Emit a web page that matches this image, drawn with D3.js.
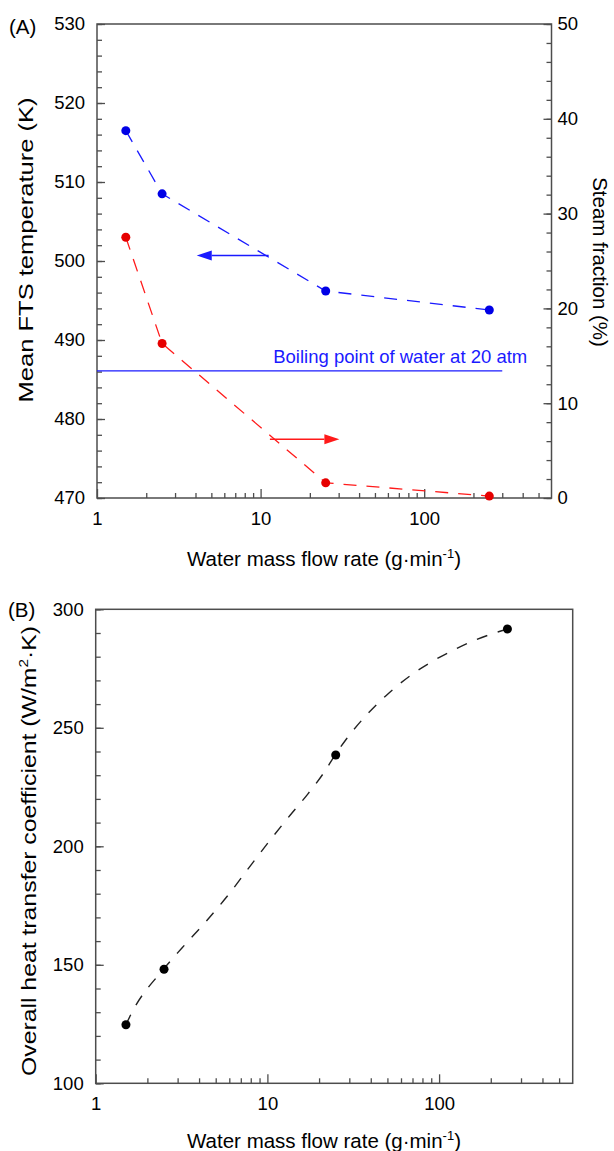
<!DOCTYPE html>
<html lang="en">
<head>
<meta charset="UTF-8">
<title>FTS temperature, steam fraction and heat transfer coefficient</title>
<script src="https://d3js.org/d3.v7.min.js"></script>
<style>
    body { margin: 0; background: #fff; }
    svg text { font-family: "Liberation Sans", Arial, sans-serif; fill: #000; }
    .tick text { font-size: 18.5px; }
    .tick line { stroke: #4d4d4d; stroke-width: 1.3px; }
    .domain { display: none; }
    .frame { fill: none; stroke: #4d4d4d; stroke-width: 1.5px; }
    .title { font-size: 20.5px; }
</style>
</head>
<body>
<div id="chart"></div>
<script>
    // measured data, flow in g/min
    var flowRates = [1.5, 2.5, 25, 250];
    var meanTemp = [516.5, 508.5, 496.2, 493.8];          // K
    var steamFraction = [27.5, 16.3, 1.6, 0.2];           // %
    var heatTransfer = [124.7, 148.1, 238.5, 291.7];      // W/m2.K

    // dashed fit curve of panel B
    var fitFlow = [1.5, 1.62, 2.48, 3.17, 4.33, 5.8, 8.1, 10.4, 13.6, 17, 21.2, 24.8, 29, 37.9, 50.7, 67.9, 92.7, 127, 166, 217, 250];
    var fitHtc = [124.7, 129.7, 148.1, 157, 167.8, 178.7, 192.5, 202.7, 213.2, 221.6, 230.8, 238.5, 245.5, 255.5, 264.5, 272, 278.3, 283.5, 287.3, 290.3, 291.7];

    var boilingTemp = 486.1;
    var boilingFlow = [1, 300];
    var boilingLabel = "Boiling point of water at 20 atm";

    var flowTicks = [1, 10, 100];
    var flowMinor = [2, 3, 4, 5, 6, 7, 8, 9, 20, 30, 40, 50, 60, 70, 80, 90, 200, 300, 400, 500];
    var tempTicks = [470, 480, 490, 500, 510, 520, 530];
    var steamTicks = [0, 10, 20, 30, 40, 50];
    var htcTicks = [100, 150, 200, 250, 300];

    var svg = d3.select("#chart").append("svg")
        .attr("width", 614)
        .attr("height", 1151);

    function minorTicks(lo, hi, step) {
        return d3.range(lo, hi + step / 2, step);
    }

    // ---------- panel A ----------
    var xA = d3.scaleLog().domain([1, 600]).range([97, 551.5]);
    var yT = d3.scaleLinear().domain([470, 530]).range([498, 24]);
    var yS = d3.scaleLinear().domain([0, 50]).range([498, 24]);

    var gA = svg.append("g");

    gA.append("g").attr("transform", "translate(0,498)")
        .call(d3.axisBottom(xA).tickValues(flowMinor).tickSize(-5).tickFormat(""));
    gA.append("g").attr("transform", "translate(0,498)")
        .call(d3.axisBottom(xA).tickValues(flowTicks).tickSize(-9).tickPadding(14).tickFormat(d3.format("d")));

    gA.append("g").attr("transform", "translate(97,0)")
        .call(d3.axisLeft(yT).tickValues(minorTicks(470, 530, 2)).tickSize(-5).tickFormat(""));
    gA.append("g").attr("transform", "translate(97,0)")
        .call(d3.axisLeft(yT).tickValues(tempTicks).tickSize(-8).tickPadding(12));

    gA.append("g").attr("transform", "translate(551.5,0)")
        .call(d3.axisRight(yS).tickValues(minorTicks(0, 50, 2)).tickSize(-5).tickFormat(""));
    gA.append("g").attr("transform", "translate(551.5,0)")
        .call(d3.axisRight(yS).tickValues(steamTicks).tickSize(-8).tickPadding(6));

    gA.append("rect").attr("class", "frame")
        .attr("x", 97).attr("y", 24).attr("width", 551.5 - 97).attr("height", 498 - 24);

    // boiling point line
    gA.append("line")
        .attr("x1", xA(boilingFlow[0])).attr("x2", xA(boilingFlow[1]))
        .attr("y1", yT(boilingTemp)).attr("y2", yT(boilingTemp))
        .attr("stroke", "#1a1aff").attr("stroke-width", 1.3);
    gA.append("text")
        .attr("x", xA(boilingFlow[1]) + 25).attr("y", yT(boilingTemp) - 8)
        .attr("text-anchor", "end")
        .style("font-size", "18.5px").style("fill", "#1a1aff")
        .text(boilingLabel);

    var tempPts = flowRates.map(function(f, i) { return [f, meanTemp[i]]; });
    var steamPts = flowRates.map(function(f, i) { return [f, steamFraction[i]]; });

    var lineT = d3.line().x(function(d) { return xA(d[0]); }).y(function(d) { return yT(d[1]); });
    var lineS = d3.line().x(function(d) { return xA(d[0]); }).y(function(d) { return yS(d[1]); });

    gA.append("path").attr("d", lineT(tempPts))
        .attr("fill", "none").attr("stroke", "#1a1aff").attr("stroke-width", 1.3)
        .attr("stroke-dasharray", "13,10");
    gA.append("path").attr("d", lineS(steamPts))
        .attr("fill", "none").attr("stroke", "#ff1a1a").attr("stroke-width", 1.3)
        .attr("stroke-dasharray", "13,10");

    gA.selectAll("circle.t").data(tempPts).join("circle").attr("class", "t")
        .attr("cx", function(d) { return xA(d[0]); }).attr("cy", function(d) { return yT(d[1]); })
        .attr("r", 4.5).attr("fill", "#0000e6");
    gA.selectAll("circle.s").data(steamPts).join("circle").attr("class", "s")
        .attr("cx", function(d) { return xA(d[0]); }).attr("cy", function(d) { return yS(d[1]); })
        .attr("r", 4.5).attr("fill", "#e60000");

    // arrows pointing at the axis each series belongs to
    function arrow(g, x1, x2, y, color) {
        var dir = x2 > x1 ? 1 : -1;
        var head = 15, half = 5;
        g.append("line")
            .attr("x1", x1).attr("x2", x2 - dir * head).attr("y1", y).attr("y2", y)
            .attr("stroke", color).attr("stroke-width", 1.5);
        g.append("path")
            .attr("d", "M" + x2 + "," + y + "L" + (x2 - dir * head) + "," + (y - half) +
                       "L" + (x2 - dir * head) + "," + (y + half) + "Z")
            .attr("fill", color);
    }
    arrow(gA, xA(11.2), xA(4.07), yT(500.7), "#1a1aff");
    arrow(gA, xA(11.4), xA(30.3), yS(6.2), "#ff1a1a");

    gA.append("text").attr("x", 9).attr("y", 34).style("font-size", "20.5px").text("(A)");

    gA.append("text").attr("class", "title")
        .attr("transform", "translate(33,250) rotate(-90)")
        .attr("text-anchor", "middle")
        .attr("textLength", 305).attr("lengthAdjust", "spacingAndGlyphs")
        .style("font-size", "21px")
        .text("Mean FTS temperature (K)");
    gA.append("text").attr("class", "title")
        .attr("transform", "translate(593,262) rotate(90)")
        .attr("text-anchor", "middle")
        .text("Steam fraction (%)");

    var xtA = gA.append("text").attr("class", "title")
        .attr("x", 324).attr("y", 566).attr("text-anchor", "middle");
    xtA.append("tspan").text("Water mass flow rate (g\u00b7min");
    xtA.append("tspan").attr("dy", -8).style("font-size", "13px").text("-1");
    xtA.append("tspan").attr("dy", 8).text(")");

    // ---------- panel B ----------
    var xB = d3.scaleLog().domain([1, 600]).range([95.7, 572.7]);
    var yB = d3.scaleLinear().domain([100, 300]).range([1083.3, 609.3]);

    var gB = svg.append("g");

    gB.append("g").attr("transform", "translate(0,1083.3)")
        .call(d3.axisBottom(xB).tickValues(flowMinor).tickSize(-5).tickFormat(""));
    gB.append("g").attr("transform", "translate(0,1083.3)")
        .call(d3.axisBottom(xB).tickValues(flowTicks).tickSize(-9).tickPadding(14).tickFormat(d3.format("d")));

    gB.append("g").attr("transform", "translate(95.7,0)")
        .call(d3.axisLeft(yB).tickValues(minorTicks(100, 300, 10)).tickSize(-5).tickFormat(""));
    gB.append("g").attr("transform", "translate(95.7,0)")
        .call(d3.axisLeft(yB).tickValues(htcTicks).tickSize(-8).tickPadding(12));

    gB.append("rect").attr("class", "frame")
        .attr("x", 95.7).attr("y", 609.3).attr("width", 572.7 - 95.7).attr("height", 1083.3 - 609.3);

    var fitPts = fitFlow.map(function(f, i) { return [f, fitHtc[i]]; });
    var lineB = d3.line()
        .x(function(d) { return xB(d[0]); }).y(function(d) { return yB(d[1]); })
        .curve(d3.curveMonotoneX);
    gB.append("path").attr("d", lineB(fitPts))
        .attr("fill", "none").attr("stroke", "#222").attr("stroke-width", 1.4)
        .attr("stroke-dasharray", "11,11");

    gB.selectAll("circle").data(flowRates.map(function(f, i) { return [f, heatTransfer[i]]; }))
        .join("circle")
        .attr("cx", function(d) { return xB(d[0]); }).attr("cy", function(d) { return yB(d[1]); })
        .attr("r", 4.5).attr("fill", "#000");

    gB.append("text").attr("x", 8).attr("y", 617).style("font-size", "20.5px").text("(B)");

    var ytB = gB.append("text").attr("class", "title")
        .attr("transform", "translate(36,851) rotate(-90)")
        .attr("text-anchor", "middle")
        .attr("textLength", 450).attr("lengthAdjust", "spacingAndGlyphs")
        .style("font-size", "21px");
    ytB.append("tspan").text("Overall heat transfer coefficient (W/m");
    ytB.append("tspan").attr("dy", -8).style("font-size", "13px").text("2");
    ytB.append("tspan").attr("dy", 8).text("\u00b7K)");

    var xtB = gB.append("text").attr("class", "title")
        .attr("x", 324).attr("y", 1148).attr("text-anchor", "middle");
    xtB.append("tspan").text("Water mass flow rate (g\u00b7min");
    xtB.append("tspan").attr("dy", -8).style("font-size", "13px").text("-1");
    xtB.append("tspan").attr("dy", 8).text(")");
</script>
</body>
</html>
